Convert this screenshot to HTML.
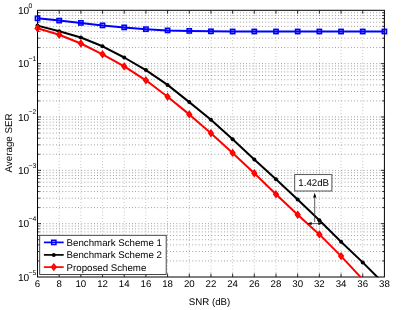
<!DOCTYPE html><html><head><meta charset="utf-8"><style>html,body{margin:0;padding:0;background:#fff}svg{display:block;will-change:transform}text{font-family:"Liberation Sans",sans-serif;fill:#000;text-rendering:geometricPrecision}</style></head><body>
<svg width="408" height="310" viewBox="0 0 408 310">
<rect width="408" height="310" fill="#fff"/>
<defs><clipPath id="c"><rect x="33.50" y="6.30" width="354.90" height="271.00"/></clipPath></defs>
<g stroke="#000" stroke-width="0.8" stroke-dasharray="0.8 2.372" opacity="0.58"><line x1="40.10" y1="63.64" x2="384.40" y2="63.64"/><line x1="40.10" y1="47.58" x2="384.40" y2="47.58"/><line x1="40.10" y1="38.19" x2="384.40" y2="38.19"/><line x1="40.10" y1="31.53" x2="384.40" y2="31.53"/><line x1="40.10" y1="26.36" x2="384.40" y2="26.36"/><line x1="40.10" y1="22.13" x2="384.40" y2="22.13"/><line x1="40.10" y1="18.56" x2="384.40" y2="18.56"/><line x1="40.10" y1="15.47" x2="384.40" y2="15.47"/><line x1="40.10" y1="12.74" x2="384.40" y2="12.74"/><line x1="40.10" y1="116.98" x2="384.40" y2="116.98"/><line x1="40.10" y1="100.92" x2="384.40" y2="100.92"/><line x1="40.10" y1="91.53" x2="384.40" y2="91.53"/><line x1="40.10" y1="84.87" x2="384.40" y2="84.87"/><line x1="40.10" y1="79.70" x2="384.40" y2="79.70"/><line x1="40.10" y1="75.47" x2="384.40" y2="75.47"/><line x1="40.10" y1="71.90" x2="384.40" y2="71.90"/><line x1="40.10" y1="68.81" x2="384.40" y2="68.81"/><line x1="40.10" y1="66.08" x2="384.40" y2="66.08"/><line x1="40.10" y1="170.32" x2="384.40" y2="170.32"/><line x1="40.10" y1="154.26" x2="384.40" y2="154.26"/><line x1="40.10" y1="144.87" x2="384.40" y2="144.87"/><line x1="40.10" y1="138.21" x2="384.40" y2="138.21"/><line x1="40.10" y1="133.04" x2="384.40" y2="133.04"/><line x1="40.10" y1="128.81" x2="384.40" y2="128.81"/><line x1="40.10" y1="125.24" x2="384.40" y2="125.24"/><line x1="40.10" y1="122.15" x2="384.40" y2="122.15"/><line x1="40.10" y1="119.42" x2="384.40" y2="119.42"/><line x1="40.10" y1="223.66" x2="384.40" y2="223.66"/><line x1="40.10" y1="207.60" x2="384.40" y2="207.60"/><line x1="40.10" y1="198.21" x2="384.40" y2="198.21"/><line x1="40.10" y1="191.55" x2="384.40" y2="191.55"/><line x1="40.10" y1="186.38" x2="384.40" y2="186.38"/><line x1="40.10" y1="182.15" x2="384.40" y2="182.15"/><line x1="40.10" y1="178.58" x2="384.40" y2="178.58"/><line x1="40.10" y1="175.49" x2="384.40" y2="175.49"/><line x1="40.10" y1="172.76" x2="384.40" y2="172.76"/><line x1="40.10" y1="260.94" x2="384.40" y2="260.94"/><line x1="40.10" y1="251.55" x2="384.40" y2="251.55"/><line x1="40.10" y1="244.89" x2="384.40" y2="244.89"/><line x1="40.10" y1="239.72" x2="384.40" y2="239.72"/><line x1="40.10" y1="235.49" x2="384.40" y2="235.49"/><line x1="40.10" y1="231.92" x2="384.40" y2="231.92"/><line x1="40.10" y1="228.83" x2="384.40" y2="228.83"/><line x1="40.10" y1="226.10" x2="384.40" y2="226.10"/></g>
<g stroke="#000" stroke-width="0.8" stroke-dasharray="0.8 2.372" opacity="0.36"><line x1="59.18" y1="11.80" x2="59.18" y2="277.00"/><line x1="80.86" y1="11.80" x2="80.86" y2="277.00"/><line x1="102.54" y1="11.80" x2="102.54" y2="277.00"/><line x1="124.22" y1="11.80" x2="124.22" y2="277.00"/><line x1="145.91" y1="11.80" x2="145.91" y2="277.00"/><line x1="167.59" y1="11.80" x2="167.59" y2="277.00"/><line x1="189.27" y1="11.80" x2="189.27" y2="277.00"/><line x1="210.95" y1="11.80" x2="210.95" y2="277.00"/><line x1="232.63" y1="11.80" x2="232.63" y2="277.00"/><line x1="254.31" y1="11.80" x2="254.31" y2="277.00"/><line x1="275.99" y1="11.80" x2="275.99" y2="277.00"/><line x1="297.67" y1="11.80" x2="297.67" y2="277.00"/><line x1="319.36" y1="11.80" x2="319.36" y2="277.00"/><line x1="341.04" y1="11.80" x2="341.04" y2="277.00"/><line x1="362.72" y1="11.80" x2="362.72" y2="277.00"/></g>
<rect x="37.50" y="10.30" width="346.90" height="266.70" fill="none" stroke="#000" stroke-width="1"/>
<g stroke="#000" stroke-width="0.8"><line x1="59.18" y1="277.00" x2="59.18" y2="273.50"/><line x1="59.18" y1="10.30" x2="59.18" y2="13.80"/><line x1="80.86" y1="277.00" x2="80.86" y2="273.50"/><line x1="80.86" y1="10.30" x2="80.86" y2="13.80"/><line x1="102.54" y1="277.00" x2="102.54" y2="273.50"/><line x1="102.54" y1="10.30" x2="102.54" y2="13.80"/><line x1="124.22" y1="277.00" x2="124.22" y2="273.50"/><line x1="124.22" y1="10.30" x2="124.22" y2="13.80"/><line x1="145.91" y1="277.00" x2="145.91" y2="273.50"/><line x1="145.91" y1="10.30" x2="145.91" y2="13.80"/><line x1="167.59" y1="277.00" x2="167.59" y2="273.50"/><line x1="167.59" y1="10.30" x2="167.59" y2="13.80"/><line x1="189.27" y1="277.00" x2="189.27" y2="273.50"/><line x1="189.27" y1="10.30" x2="189.27" y2="13.80"/><line x1="210.95" y1="277.00" x2="210.95" y2="273.50"/><line x1="210.95" y1="10.30" x2="210.95" y2="13.80"/><line x1="232.63" y1="277.00" x2="232.63" y2="273.50"/><line x1="232.63" y1="10.30" x2="232.63" y2="13.80"/><line x1="254.31" y1="277.00" x2="254.31" y2="273.50"/><line x1="254.31" y1="10.30" x2="254.31" y2="13.80"/><line x1="275.99" y1="277.00" x2="275.99" y2="273.50"/><line x1="275.99" y1="10.30" x2="275.99" y2="13.80"/><line x1="297.67" y1="277.00" x2="297.67" y2="273.50"/><line x1="297.67" y1="10.30" x2="297.67" y2="13.80"/><line x1="319.36" y1="277.00" x2="319.36" y2="273.50"/><line x1="319.36" y1="10.30" x2="319.36" y2="13.80"/><line x1="341.04" y1="277.00" x2="341.04" y2="273.50"/><line x1="341.04" y1="10.30" x2="341.04" y2="13.80"/><line x1="362.72" y1="277.00" x2="362.72" y2="273.50"/><line x1="362.72" y1="10.30" x2="362.72" y2="13.80"/><line x1="37.50" y1="47.58" x2="39.70" y2="47.58"/><line x1="384.40" y1="47.58" x2="382.20" y2="47.58"/><line x1="37.50" y1="38.19" x2="39.70" y2="38.19"/><line x1="384.40" y1="38.19" x2="382.20" y2="38.19"/><line x1="37.50" y1="31.53" x2="39.70" y2="31.53"/><line x1="384.40" y1="31.53" x2="382.20" y2="31.53"/><line x1="37.50" y1="26.36" x2="39.70" y2="26.36"/><line x1="384.40" y1="26.36" x2="382.20" y2="26.36"/><line x1="37.50" y1="22.13" x2="39.70" y2="22.13"/><line x1="384.40" y1="22.13" x2="382.20" y2="22.13"/><line x1="37.50" y1="18.56" x2="39.70" y2="18.56"/><line x1="384.40" y1="18.56" x2="382.20" y2="18.56"/><line x1="37.50" y1="15.47" x2="39.70" y2="15.47"/><line x1="384.40" y1="15.47" x2="382.20" y2="15.47"/><line x1="37.50" y1="12.74" x2="39.70" y2="12.74"/><line x1="384.40" y1="12.74" x2="382.20" y2="12.74"/><line x1="37.50" y1="63.64" x2="41.00" y2="63.64"/><line x1="384.40" y1="63.64" x2="380.90" y2="63.64"/><line x1="37.50" y1="100.92" x2="39.70" y2="100.92"/><line x1="384.40" y1="100.92" x2="382.20" y2="100.92"/><line x1="37.50" y1="91.53" x2="39.70" y2="91.53"/><line x1="384.40" y1="91.53" x2="382.20" y2="91.53"/><line x1="37.50" y1="84.87" x2="39.70" y2="84.87"/><line x1="384.40" y1="84.87" x2="382.20" y2="84.87"/><line x1="37.50" y1="79.70" x2="39.70" y2="79.70"/><line x1="384.40" y1="79.70" x2="382.20" y2="79.70"/><line x1="37.50" y1="75.47" x2="39.70" y2="75.47"/><line x1="384.40" y1="75.47" x2="382.20" y2="75.47"/><line x1="37.50" y1="71.90" x2="39.70" y2="71.90"/><line x1="384.40" y1="71.90" x2="382.20" y2="71.90"/><line x1="37.50" y1="68.81" x2="39.70" y2="68.81"/><line x1="384.40" y1="68.81" x2="382.20" y2="68.81"/><line x1="37.50" y1="66.08" x2="39.70" y2="66.08"/><line x1="384.40" y1="66.08" x2="382.20" y2="66.08"/><line x1="37.50" y1="116.98" x2="41.00" y2="116.98"/><line x1="384.40" y1="116.98" x2="380.90" y2="116.98"/><line x1="37.50" y1="154.26" x2="39.70" y2="154.26"/><line x1="384.40" y1="154.26" x2="382.20" y2="154.26"/><line x1="37.50" y1="144.87" x2="39.70" y2="144.87"/><line x1="384.40" y1="144.87" x2="382.20" y2="144.87"/><line x1="37.50" y1="138.21" x2="39.70" y2="138.21"/><line x1="384.40" y1="138.21" x2="382.20" y2="138.21"/><line x1="37.50" y1="133.04" x2="39.70" y2="133.04"/><line x1="384.40" y1="133.04" x2="382.20" y2="133.04"/><line x1="37.50" y1="128.81" x2="39.70" y2="128.81"/><line x1="384.40" y1="128.81" x2="382.20" y2="128.81"/><line x1="37.50" y1="125.24" x2="39.70" y2="125.24"/><line x1="384.40" y1="125.24" x2="382.20" y2="125.24"/><line x1="37.50" y1="122.15" x2="39.70" y2="122.15"/><line x1="384.40" y1="122.15" x2="382.20" y2="122.15"/><line x1="37.50" y1="119.42" x2="39.70" y2="119.42"/><line x1="384.40" y1="119.42" x2="382.20" y2="119.42"/><line x1="37.50" y1="170.32" x2="41.00" y2="170.32"/><line x1="384.40" y1="170.32" x2="380.90" y2="170.32"/><line x1="37.50" y1="207.60" x2="39.70" y2="207.60"/><line x1="384.40" y1="207.60" x2="382.20" y2="207.60"/><line x1="37.50" y1="198.21" x2="39.70" y2="198.21"/><line x1="384.40" y1="198.21" x2="382.20" y2="198.21"/><line x1="37.50" y1="191.55" x2="39.70" y2="191.55"/><line x1="384.40" y1="191.55" x2="382.20" y2="191.55"/><line x1="37.50" y1="186.38" x2="39.70" y2="186.38"/><line x1="384.40" y1="186.38" x2="382.20" y2="186.38"/><line x1="37.50" y1="182.15" x2="39.70" y2="182.15"/><line x1="384.40" y1="182.15" x2="382.20" y2="182.15"/><line x1="37.50" y1="178.58" x2="39.70" y2="178.58"/><line x1="384.40" y1="178.58" x2="382.20" y2="178.58"/><line x1="37.50" y1="175.49" x2="39.70" y2="175.49"/><line x1="384.40" y1="175.49" x2="382.20" y2="175.49"/><line x1="37.50" y1="172.76" x2="39.70" y2="172.76"/><line x1="384.40" y1="172.76" x2="382.20" y2="172.76"/><line x1="37.50" y1="223.66" x2="41.00" y2="223.66"/><line x1="384.40" y1="223.66" x2="380.90" y2="223.66"/><line x1="37.50" y1="260.94" x2="39.70" y2="260.94"/><line x1="384.40" y1="260.94" x2="382.20" y2="260.94"/><line x1="37.50" y1="251.55" x2="39.70" y2="251.55"/><line x1="384.40" y1="251.55" x2="382.20" y2="251.55"/><line x1="37.50" y1="244.89" x2="39.70" y2="244.89"/><line x1="384.40" y1="244.89" x2="382.20" y2="244.89"/><line x1="37.50" y1="239.72" x2="39.70" y2="239.72"/><line x1="384.40" y1="239.72" x2="382.20" y2="239.72"/><line x1="37.50" y1="235.49" x2="39.70" y2="235.49"/><line x1="384.40" y1="235.49" x2="382.20" y2="235.49"/><line x1="37.50" y1="231.92" x2="39.70" y2="231.92"/><line x1="384.40" y1="231.92" x2="382.20" y2="231.92"/><line x1="37.50" y1="228.83" x2="39.70" y2="228.83"/><line x1="384.40" y1="228.83" x2="382.20" y2="228.83"/><line x1="37.50" y1="226.10" x2="39.70" y2="226.10"/><line x1="384.40" y1="226.10" x2="382.20" y2="226.10"/></g>
<g clip-path="url(#c)">
<polyline points="37.50,18.30 59.18,20.60 80.86,22.90 102.54,25.40 124.22,27.40 145.91,29.20 167.59,30.40 189.27,30.90 210.95,31.30 232.63,31.50 254.31,31.50 275.99,31.50 297.67,31.50 319.36,31.50 341.04,31.50 362.72,31.50 384.40,31.50" fill="none" stroke="#0000ff" stroke-width="2.0" stroke-linejoin="round"/>
<rect x="35.35" y="16.15" width="4.30" height="4.30" fill="#0000ff" fill-opacity="0.3" stroke="#0000ff" stroke-width="1.5"/>
<rect x="57.03" y="18.45" width="4.30" height="4.30" fill="#0000ff" fill-opacity="0.3" stroke="#0000ff" stroke-width="1.5"/>
<rect x="78.71" y="20.75" width="4.30" height="4.30" fill="#0000ff" fill-opacity="0.3" stroke="#0000ff" stroke-width="1.5"/>
<rect x="100.39" y="23.25" width="4.30" height="4.30" fill="#0000ff" fill-opacity="0.3" stroke="#0000ff" stroke-width="1.5"/>
<rect x="122.07" y="25.25" width="4.30" height="4.30" fill="#0000ff" fill-opacity="0.3" stroke="#0000ff" stroke-width="1.5"/>
<rect x="143.76" y="27.05" width="4.30" height="4.30" fill="#0000ff" fill-opacity="0.3" stroke="#0000ff" stroke-width="1.5"/>
<rect x="165.44" y="28.25" width="4.30" height="4.30" fill="#0000ff" fill-opacity="0.3" stroke="#0000ff" stroke-width="1.5"/>
<rect x="187.12" y="28.75" width="4.30" height="4.30" fill="#0000ff" fill-opacity="0.3" stroke="#0000ff" stroke-width="1.5"/>
<rect x="208.80" y="29.15" width="4.30" height="4.30" fill="#0000ff" fill-opacity="0.3" stroke="#0000ff" stroke-width="1.5"/>
<rect x="230.48" y="29.35" width="4.30" height="4.30" fill="#0000ff" fill-opacity="0.3" stroke="#0000ff" stroke-width="1.5"/>
<rect x="252.16" y="29.35" width="4.30" height="4.30" fill="#0000ff" fill-opacity="0.3" stroke="#0000ff" stroke-width="1.5"/>
<rect x="273.84" y="29.35" width="4.30" height="4.30" fill="#0000ff" fill-opacity="0.3" stroke="#0000ff" stroke-width="1.5"/>
<rect x="295.52" y="29.35" width="4.30" height="4.30" fill="#0000ff" fill-opacity="0.3" stroke="#0000ff" stroke-width="1.5"/>
<rect x="317.21" y="29.35" width="4.30" height="4.30" fill="#0000ff" fill-opacity="0.3" stroke="#0000ff" stroke-width="1.5"/>
<rect x="338.89" y="29.35" width="4.30" height="4.30" fill="#0000ff" fill-opacity="0.3" stroke="#0000ff" stroke-width="1.5"/>
<rect x="360.57" y="29.35" width="4.30" height="4.30" fill="#0000ff" fill-opacity="0.3" stroke="#0000ff" stroke-width="1.5"/>
<rect x="382.25" y="29.35" width="4.30" height="4.30" fill="#0000ff" fill-opacity="0.3" stroke="#0000ff" stroke-width="1.5"/>
<polyline points="37.50,25.60 59.18,31.20 80.86,37.50 102.54,46.30 124.22,57.50 145.91,70.10 167.59,84.90 189.27,102.10 210.95,119.70 232.63,139.30 254.31,159.50 275.99,179.20 297.67,199.60 319.36,220.20 341.04,241.80 362.72,262.40 384.40,284.10" fill="none" stroke="#000" stroke-width="2.0" stroke-linejoin="round"/>
<circle cx="37.50" cy="25.60" r="2.0" fill="#000"/>
<circle cx="59.18" cy="31.20" r="2.0" fill="#000"/>
<circle cx="80.86" cy="37.50" r="2.0" fill="#000"/>
<circle cx="102.54" cy="46.30" r="2.0" fill="#000"/>
<circle cx="124.22" cy="57.50" r="2.0" fill="#000"/>
<circle cx="145.91" cy="70.10" r="2.0" fill="#000"/>
<circle cx="167.59" cy="84.90" r="2.0" fill="#000"/>
<circle cx="189.27" cy="102.10" r="2.0" fill="#000"/>
<circle cx="210.95" cy="119.70" r="2.0" fill="#000"/>
<circle cx="232.63" cy="139.30" r="2.0" fill="#000"/>
<circle cx="254.31" cy="159.50" r="2.0" fill="#000"/>
<circle cx="275.99" cy="179.20" r="2.0" fill="#000"/>
<circle cx="297.67" cy="199.60" r="2.0" fill="#000"/>
<circle cx="319.36" cy="220.20" r="2.0" fill="#000"/>
<circle cx="341.04" cy="241.80" r="2.0" fill="#000"/>
<circle cx="362.72" cy="262.40" r="2.0" fill="#000"/>
<polyline points="37.50,28.20 59.18,34.70 80.86,43.50 102.54,54.30 124.22,66.40 145.91,80.30 167.59,96.80 189.27,114.40 210.95,133.20 232.63,152.90 254.31,173.20 275.99,194.30 297.67,214.70 319.36,234.40 341.04,256.10 362.72,279.40 384.40,302.00" fill="none" stroke="#ff0000" stroke-width="2.0" stroke-linejoin="round"/>
<path d="M37.50 25.30L39.70 28.20L37.50 31.10L35.30 28.20Z" fill="#ff0000" fill-opacity="0.5" stroke="#ff0000" stroke-width="1.6" stroke-linejoin="miter"/>
<path d="M59.18 31.80L61.38 34.70L59.18 37.60L56.98 34.70Z" fill="#ff0000" fill-opacity="0.5" stroke="#ff0000" stroke-width="1.6" stroke-linejoin="miter"/>
<path d="M80.86 40.60L83.06 43.50L80.86 46.40L78.66 43.50Z" fill="#ff0000" fill-opacity="0.5" stroke="#ff0000" stroke-width="1.6" stroke-linejoin="miter"/>
<path d="M102.54 51.40L104.74 54.30L102.54 57.20L100.34 54.30Z" fill="#ff0000" fill-opacity="0.5" stroke="#ff0000" stroke-width="1.6" stroke-linejoin="miter"/>
<path d="M124.22 63.50L126.42 66.40L124.22 69.30L122.02 66.40Z" fill="#ff0000" fill-opacity="0.5" stroke="#ff0000" stroke-width="1.6" stroke-linejoin="miter"/>
<path d="M145.91 77.40L148.11 80.30L145.91 83.20L143.71 80.30Z" fill="#ff0000" fill-opacity="0.5" stroke="#ff0000" stroke-width="1.6" stroke-linejoin="miter"/>
<path d="M167.59 93.90L169.79 96.80L167.59 99.70L165.39 96.80Z" fill="#ff0000" fill-opacity="0.5" stroke="#ff0000" stroke-width="1.6" stroke-linejoin="miter"/>
<path d="M189.27 111.50L191.47 114.40L189.27 117.30L187.07 114.40Z" fill="#ff0000" fill-opacity="0.5" stroke="#ff0000" stroke-width="1.6" stroke-linejoin="miter"/>
<path d="M210.95 130.30L213.15 133.20L210.95 136.10L208.75 133.20Z" fill="#ff0000" fill-opacity="0.5" stroke="#ff0000" stroke-width="1.6" stroke-linejoin="miter"/>
<path d="M232.63 150.00L234.83 152.90L232.63 155.80L230.43 152.90Z" fill="#ff0000" fill-opacity="0.5" stroke="#ff0000" stroke-width="1.6" stroke-linejoin="miter"/>
<path d="M254.31 170.30L256.51 173.20L254.31 176.10L252.11 173.20Z" fill="#ff0000" fill-opacity="0.5" stroke="#ff0000" stroke-width="1.6" stroke-linejoin="miter"/>
<path d="M275.99 191.40L278.19 194.30L275.99 197.20L273.79 194.30Z" fill="#ff0000" fill-opacity="0.5" stroke="#ff0000" stroke-width="1.6" stroke-linejoin="miter"/>
<path d="M297.67 211.80L299.87 214.70L297.67 217.60L295.47 214.70Z" fill="#ff0000" fill-opacity="0.5" stroke="#ff0000" stroke-width="1.6" stroke-linejoin="miter"/>
<path d="M319.36 231.50L321.56 234.40L319.36 237.30L317.16 234.40Z" fill="#ff0000" fill-opacity="0.5" stroke="#ff0000" stroke-width="1.6" stroke-linejoin="miter"/>
<path d="M341.04 253.20L343.24 256.10L341.04 259.00L338.84 256.10Z" fill="#ff0000" fill-opacity="0.5" stroke="#ff0000" stroke-width="1.6" stroke-linejoin="miter"/>
</g>
<rect x="294.7" y="174.6" width="37.2" height="16.4" fill="#fff" stroke="#444" stroke-width="0.9"/>
<text x="298.3" y="185.9" font-size="9.70">1.42dB</text>
<g stroke="#333" stroke-width="0.8" fill="#000"><line x1="314.7" y1="195" x2="314.7" y2="222.2"/><line x1="309.5" y1="223.6" x2="320.5" y2="223.6"/>
<path d="M314.7 192.7L316.3 197.6L313.1 197.6Z" stroke="none"/>
<path d="M307.3 223.6L311.6 222.1L311.6 225.1Z" stroke="none"/>
<path d="M322.6 223.6L318.3 222.1L318.3 225.1Z" stroke="none"/></g>
<rect x="39.7" y="235.3" width="126.5" height="39.2" fill="#fff" stroke="#333" stroke-width="0.9"/>
<line x1="43.9" y1="242.40" x2="63.7" y2="242.40" stroke="#0000ff" stroke-width="1.7"/>
<rect x="51.65" y="240.25" width="4.30" height="4.30" fill="none" stroke="#0000ff" stroke-width="1.5"/>
<text x="66.6" y="245.90" font-size="9.70">Benchmark Scheme 1</text>
<line x1="43.9" y1="254.90" x2="63.7" y2="254.90" stroke="#000" stroke-width="1.7"/>
<circle cx="53.8" cy="254.90" r="2.0" fill="#000"/>
<text x="66.6" y="258.40" font-size="9.70">Benchmark Scheme 2</text>
<line x1="43.9" y1="267.10" x2="63.7" y2="267.10" stroke="#ff0000" stroke-width="1.7"/>
<path d="M53.80 264.20L56.00 267.10L53.80 270.00L51.60 267.10Z" fill="#ff0000" fill-opacity="0.5" stroke="#ff0000" stroke-width="1.6" stroke-linejoin="miter"/>
<text x="66.6" y="270.60" font-size="9.70">Proposed Scheme</text>
<text x="37.50" y="287.4" font-size="9.70" text-anchor="middle">6</text>
<text x="59.18" y="287.4" font-size="9.70" text-anchor="middle">8</text>
<text x="80.86" y="287.4" font-size="9.70" text-anchor="middle">10</text>
<text x="102.54" y="287.4" font-size="9.70" text-anchor="middle">12</text>
<text x="124.22" y="287.4" font-size="9.70" text-anchor="middle">14</text>
<text x="145.91" y="287.4" font-size="9.70" text-anchor="middle">16</text>
<text x="167.59" y="287.4" font-size="9.70" text-anchor="middle">18</text>
<text x="189.27" y="287.4" font-size="9.70" text-anchor="middle">20</text>
<text x="210.95" y="287.4" font-size="9.70" text-anchor="middle">22</text>
<text x="232.63" y="287.4" font-size="9.70" text-anchor="middle">24</text>
<text x="254.31" y="287.4" font-size="9.70" text-anchor="middle">26</text>
<text x="275.99" y="287.4" font-size="9.70" text-anchor="middle">28</text>
<text x="297.67" y="287.4" font-size="9.70" text-anchor="middle">30</text>
<text x="319.36" y="287.4" font-size="9.70" text-anchor="middle">32</text>
<text x="341.04" y="287.4" font-size="9.70" text-anchor="middle">34</text>
<text x="362.72" y="287.4" font-size="9.70" text-anchor="middle">36</text>
<text x="384.40" y="287.4" font-size="9.70" text-anchor="middle">38</text>
<text x="17.9" y="13.90" font-size="10.2">10</text>
<text x="28.6" y="7.80" font-size="6.8">0</text>
<text x="17.9" y="67.24" font-size="10.2">10</text>
<text x="28.6" y="61.14" font-size="6.8">−1</text>
<text x="17.9" y="120.58" font-size="10.2">10</text>
<text x="28.6" y="114.48" font-size="6.8">−2</text>
<text x="17.9" y="173.92" font-size="10.2">10</text>
<text x="28.6" y="167.82" font-size="6.8">−3</text>
<text x="17.9" y="227.26" font-size="10.2">10</text>
<text x="28.6" y="221.16" font-size="6.8">−4</text>
<text x="17.9" y="280.60" font-size="10.2">10</text>
<text x="28.6" y="274.50" font-size="6.8">−5</text>
<text x="209.6" y="305.1" font-size="9.70" text-anchor="middle">SNR (dB)</text>
<text transform="translate(12.3,142.9) rotate(-90)" font-size="9.8" text-anchor="middle">Average SER</text>
</svg></body></html>
